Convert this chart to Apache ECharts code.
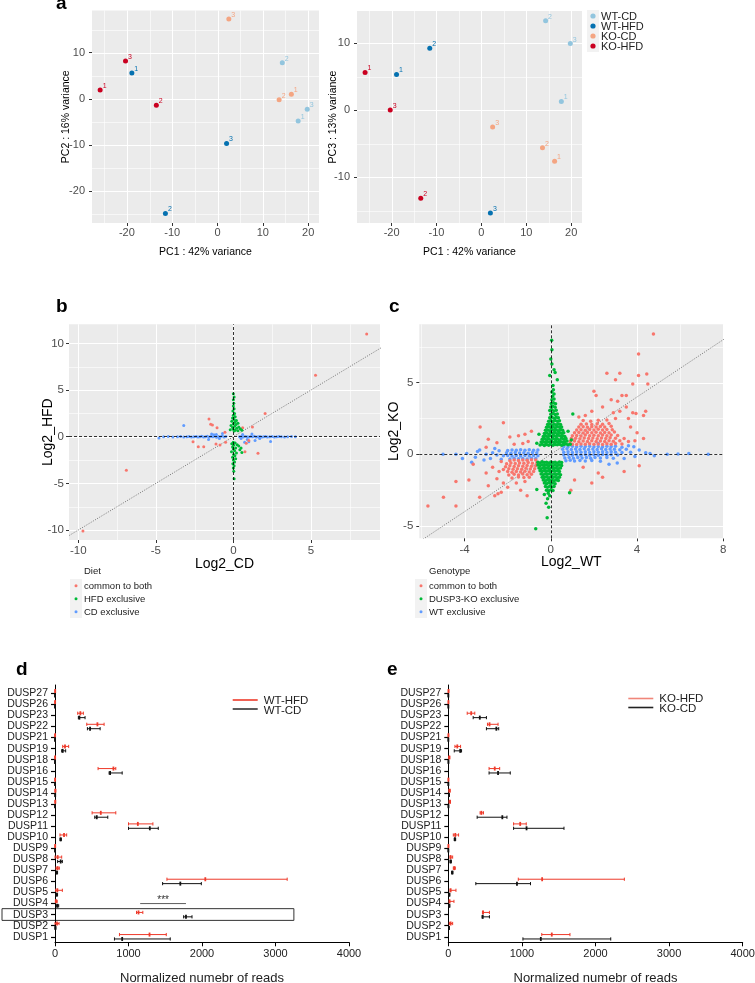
<!DOCTYPE html>
<html><head><meta charset="utf-8">
<script src="https://cdn.jsdelivr.net/npm/echarts@6/dist/echarts.min.js"></script>
<style>html,body{margin:0;padding:0;background:#fff}#c{width:755px;height:983px}</style>
</head><body><div id="c"></div>
<script>
// ---------------- DATA ----------------
// Panel a: PCA (rows = group, columns = replicate 1,2,3)
const pcaGroups = ['WT-CD', 'WT-HFD', 'KO-CD', 'KO-HFD'];
const replicates = [1, 2, 3];
const pc1Values = [[17.8, 14.3, 19.8], [-18.9, -11.5, 2.0], [16.3, 13.6, 2.5], [-25.9, -13.5, -20.3]];
const pc2Values = [[-4.8, 7.8, -2.3], [5.6, -24.9, -9.7], [1.0, -0.2, 17.3], [1.9, -1.4, 8.2]];
const pc3Values = [[1.3, 13.3, 9.9], [5.3, 9.2, -15.3], [-7.6, -5.6, -2.5], [5.6, -13.1, 0.0]];
const pcaXTicks = [-20, -10, 0, 10, 20];
const pc2Ticks = [-20, -10, 0, 10];
const pc3Ticks = [-10, 0, 10];

// Panel b: Log2_CD (x) vs Log2_HFD (y)
const dietClasses = ['common to both', 'HFD exclusive', 'CD exclusive'];
const bCommon = [[8.6,11.0],[5.3,6.6],[2.05,2.5],[-6.9,-3.6],[-9.7,-10.1],[-1.57,1.9],[-1.46,1.33],[-1.35,1.26],[-1.05,0.97],[-2.26,-1.07],[-1.91,-1.07],[-1.12,-0.79],[-0.86,-0.9],[1.23,1.04],[0.83,-0.71],[1.59,-1.78],[0.75,-1.6],[-0.54,0.47],[0.6,0.95],[1.0,-0.4],[-0.5,-0.6],[-2.6,-0.55]];
const bHfdOnly = [[0.0,4.6],[0.05,4.25],[0.0,3.95],[0.03,3.6],[0.0,3.3],[0.05,3.0],[-0.03,2.75],[0.08,2.5],[0.0,2.3],[0.12,2.15],[-0.05,2.0],[0.05,1.85],[0.2,1.75],[-0.1,1.65],[0.1,1.55],[0.3,1.45],[0.0,1.4],[0.18,1.3],[-0.15,1.2],[0.08,1.12],[0.35,1.05],[-0.05,0.98],[0.22,0.9],[0.45,0.85],[0.0,0.8],[-0.2,0.75],[0.12,0.7],[0.3,0.65],[0.55,0.7],[0.05,0.6],
 [0.0,-0.6],[0.12,-0.68],[-0.1,-0.75],[0.25,-0.85],[0.02,-0.92],[0.35,-1.0],[-0.05,-1.1],[0.15,-1.2],[0.0,-1.32],[0.42,-1.4],[0.08,-1.5],[-0.12,-1.62],[0.2,-1.75],[0.02,-1.9],[0.1,-2.05],[-0.05,-2.2],[0.15,-2.35],[0.0,-2.5],[0.08,-2.7],[-0.03,-2.9],[0.05,-3.1],[0.0,-3.35],[0.03,-3.7],[0.05,-4.5],[0.55,-1.7],[0.5,-1.2]];
const bCdOnly = [[-4.8,-0.15],[-4.5,0.0],[-4.2,0.02],[-3.9,-0.03],[-3.6,0.0],[-3.4,0.03],[-3.2,-0.02],[-3.0,0.0],[-2.85,0.03],[-2.7,-0.02],[-2.55,0.0],
 [-2.4,0.02],[-2.28,-0.03],[-2.16,0.0],[-2.04,0.04],[-1.92,-0.02],[-1.8,0.0],[-1.68,0.05],[-1.56,-0.04],[-1.44,0.02],[-1.32,0.0],[-1.2,0.06],[-1.08,-0.05],[-0.96,0.02],[-0.84,0.0],[-0.72,0.08],[-0.6,-0.03],[-0.48,0.02],[-1.4,0.3],[-1.25,0.2],[-1.1,0.25],[-0.9,-0.2],[-0.7,0.35],[-3.2,1.2],[-1.6,-0.3],
 [0.4,0.0],[0.52,0.03],[0.64,-0.02],[0.76,0.02],[0.88,0.0],[1.0,-0.03],[1.12,0.02],[1.24,0.0],[1.36,0.04],[1.48,-0.02],[1.6,0.0],[1.72,0.03],[1.84,-0.02],[1.96,0.0],[2.08,0.02],[2.2,-0.02],[2.35,0.0],[2.5,0.03],[2.65,-0.02],[2.8,0.0],[2.95,0.02],[3.1,0.0],[3.3,-0.02],[3.5,0.0],[3.75,0.02],[4.0,0.0],[0.73,-0.6],[1.0,-0.55],[0.9,-0.3],[1.4,-0.4],[1.2,0.3],[0.6,0.25],[1.7,-0.2],[2.4,-0.5],[0.5,-0.2]];
const bGeneLabels = [['Myo15b',0.75,5.47],['Gm3776',-1.03,4.82],['Cbr3',-0.65,3.79],['Lrtm2',0.63,4.0],['Serpina5',0.22,2.86],['Cgref1',-2.62,1.65],['Tnfaip8l3',1.08,1.43],['Sult2a7',1.9,0.5],['Slc13a4',3.48,0.64],['Lepr',-4.94,0.29],['Cntnap1',-3.59,0.43],['2310034O05Rik',-5.42,-0.75],['B930025P03Rik',-2.21,-0.54],['AC121973.1',4.95,-0.32],['Slc22a29',2.69,-0.75],['Gm45878',-0.1,-1.82],['Gm25360',-1.03,-2.79],['Snord13',0.82,-2.79],['Fam184a',-0.41,-3.75],['Pcdh11x',0.37,-5.07]];
const bXTicks = [-10, -5, 0, 5];
const bYTicks = [-10, -5, 0, 5, 10];

// Panel c: Log2_WT (x) vs Log2_KO (y)
const genotypeClasses = ['common to both', 'DUSP3-KO exclusive', 'WT exclusive'];
const cKoOnly = [[-0.5,0.65],[-0.4,0.7],[-0.3,0.62],[-0.2,0.68],[-0.1,0.64],[0,0.7],[0.1,0.63],[0.2,0.69],[0.3,0.66],[0.4,0.7],[0.5,0.64],[0.6,0.68],[0.7,0.72],[0.8,0.66],[0.9,0.7],
 [-0.45,0.85],[-0.35,0.9],[-0.25,0.82],[-0.15,0.88],[-0.05,0.84],[0.05,0.9],[0.15,0.83],[0.25,0.89],[0.35,0.85],[0.45,0.9],[0.55,0.84],[0.65,0.88],[0.75,0.92],
 [-0.4,1.05],[-0.3,1.1],[-0.2,1.02],[-0.1,1.08],[0,1.0],[0.1,1.1],[0.2,1.04],[0.3,1.08],[0.4,1.0],[0.5,1.12],[0.6,1.05],[0.7,1.1],
 [-0.35,1.25],[-0.25,1.3],[-0.15,1.22],[-0.05,1.32],[0.05,1.26],[0.15,1.3],[0.25,1.24],[0.35,1.33],[0.45,1.27],[0.55,1.3],[0.65,1.25],
 [-0.3,1.45],[-0.2,1.5],[-0.1,1.42],[0,1.52],[0.1,1.46],[0.2,1.5],[0.3,1.44],[0.4,1.53],[0.5,1.47],[0.6,1.5],
 [-0.25,1.68],[-0.15,1.7],[-0.05,1.65],[0.05,1.72],[0.15,1.66],[0.25,1.7],[0.35,1.64],[0.45,1.73],[0.55,1.68],
 [-0.2,1.88],[-0.1,1.92],[0,1.85],[0.1,1.9],[0.2,1.86],[0.3,1.93],[0.4,1.88],[0.5,1.9],
 [-0.15,2.08],[-0.05,2.12],[0.05,2.05],[0.15,2.1],[0.25,2.06],[0.35,2.12],[0.45,2.08],
 [-0.1,2.3],[0,2.35],[0.1,2.28],[0.2,2.36],[0.3,2.3],[0.4,2.34],
 [-0.05,2.55],[0.05,2.6],[0.15,2.52],[0.25,2.58],[0.35,2.55],
 [0,2.8],[0.1,2.85],[0.2,2.78],[0.3,2.82],[-0.05,3.05],[0.05,3.1],[0.15,3.02],[0.25,3.08],
 [0,3.3],[0.1,3.35],[0.2,3.28],[0.02,3.55],[0.12,3.6],[0.22,3.52],[0.05,3.8],[0.15,3.85],
 [0.08,4.05],[0.15,4.2],[0.05,4.35],[0.12,4.5],[0.1,4.8],[0.2,5.7],[0.15,5.9],[0.05,6.3],[0.0,6.65],[0.05,7.3],[0.04,7.95],[-0.05,5.5],[0.3,5.2],[-0.65,0.78],[1.02,2.81],[-0.55,1.4],[0.8,1.6],[0.95,1.0],
 [-0.6,-0.55],[-0.5,-0.6],[-0.4,-0.52],[-0.3,-0.58],[-0.2,-0.55],[-0.1,-0.6],[0,-0.53],[0.1,-0.58],[0.2,-0.55],[0.3,-0.6],[0.4,-0.54],[0.5,-0.58],
 [-0.6,-0.75],[-0.5,-0.8],[-0.4,-0.72],[-0.3,-0.78],[-0.2,-0.74],[-0.1,-0.8],[0,-0.73],[0.1,-0.79],[0.2,-0.75],[0.3,-0.8],[0.4,-0.74],[0.5,-0.78],
 [-0.55,-0.95],[-0.45,-1.0],[-0.35,-0.93],[-0.25,-0.98],[-0.15,-0.95],[-0.05,-1.0],[0.05,-0.94],[0.15,-0.99],[0.25,-0.95],[0.35,-1.0],[0.45,-0.96],
 [-0.5,-1.15],[-0.4,-1.2],[-0.3,-1.13],[-0.2,-1.18],[-0.1,-1.15],[0,-1.2],[0.1,-1.14],[0.2,-1.19],[0.3,-1.15],[0.4,-1.2],
 [-0.45,-1.38],[-0.35,-1.42],[-0.25,-1.35],[-0.15,-1.4],[-0.05,-1.36],[0.05,-1.42],[0.15,-1.37],[0.25,-1.41],[0.35,-1.38],[0.45,-1.42],
 [-0.4,-1.6],[-0.3,-1.62],[-0.2,-1.57],[-0.1,-1.63],[0,-1.58],[0.1,-1.62],[0.2,-1.59],[0.3,-1.63],[0.4,-1.6],
 [-0.35,-1.8],[-0.25,-1.84],[-0.15,-1.78],[-0.05,-1.83],[0.05,-1.8],[0.15,-1.85],[0.25,-1.79],[0.35,-1.82],
 [-0.3,-2.0],[-0.2,-2.05],[-0.1,-1.98],[0,-2.04],[0.1,-2.0],[0.2,-2.05],
 [-0.25,-2.25],[-0.15,-2.3],[-0.05,-2.22],[0.05,-2.28],[0.15,-2.24],
 [-0.2,-2.5],[-0.1,-2.55],[0,-2.48],[0.1,-2.53],[-0.65,-2.45],
 [-0.12,-2.72],[-0.05,-2.9],[-0.15,-3.1],[-0.22,-3.42],[-0.1,-3.7],[-0.17,-4.42],[-0.7,-5.2],[0.87,-2.68],[-0.3,-2.8]];
const cCommon = [[1.0,0.7],[1.2,0.68],[1.4,0.72],[1.6,0.7],[1.8,0.74],[2.0,0.7],[2.2,0.72],[2.4,0.69],[2.6,0.73],[2.8,0.7],[3.0,0.75],[3.3,0.72],
 [0.9,0.9],[1.1,0.92],[1.3,0.88],[1.5,0.93],[1.7,0.9],[1.9,0.94],[2.1,0.89],[2.3,0.93],[2.5,0.9],[2.7,0.95],[2.9,0.91],[3.2,0.95],[3.6,0.9],
 [0.95,1.1],[1.15,1.12],[1.35,1.08],[1.55,1.13],[1.75,1.1],[1.95,1.14],[2.15,1.09],[2.35,1.13],[2.55,1.1],[2.75,1.15],[3.0,1.12],[3.4,1.1],
 [1.0,1.3],[1.2,1.32],[1.4,1.28],[1.6,1.34],[1.8,1.3],[2.0,1.33],[2.2,1.29],[2.4,1.34],[2.6,1.3],[2.8,1.35],[3.1,1.32],
 [1.1,1.5],[1.3,1.52],[1.5,1.48],[1.7,1.53],[1.9,1.5],[2.1,1.54],[2.3,1.49],[2.5,1.53],[2.7,1.5],[2.95,1.55],
 [1.2,1.7],[1.4,1.72],[1.6,1.68],[1.8,1.73],[2.0,1.7],[2.2,1.74],[2.4,1.69],[2.6,1.73],[2.85,1.72],
 [1.3,1.9],[1.5,1.92],[1.7,1.88],[1.9,1.93],[2.1,1.9],[2.3,1.94],[2.5,1.9],[2.8,1.95],
 [1.4,2.1],[1.65,2.12],[1.9,2.08],[2.15,2.13],[2.4,2.1],[2.7,2.15],[1.5,2.35],[1.85,2.3],[2.2,2.38],[2.6,2.4],[3.0,2.5],
 [2.0,4.4],[2.6,5.65],[3.2,5.65],[3.0,5.2],[4.07,7.0],[4.76,8.4],[4.07,5.5],[4.45,5.6],[4.5,4.9],[3.8,4.9],[3.5,4.1],[3.3,4.1],[2.1,4.1],[2.8,3.8],[3.1,3.7],[3.8,2.9],[3.95,2.85],[3.6,2.5],[4.0,1.5],[3.5,3.3],[2.4,3.3],[1.9,3.0],[1.6,2.7],[3.2,3.0],[4.3,2.7],[4.4,3.0],[1.3,2.6],[2.9,2.9],[3.7,1.9],[4.3,1.1],[3.9,0.95],
 [1.9,-2.0],[0.93,-2.5],[2.4,-1.6],[3.4,-1.2],[1.5,-0.9],[2.2,-1.3],[4.1,-0.8],[1.1,-1.8],
 [-0.7,-0.4],[-0.9,-0.38],[-1.1,-0.42],[-1.3,-0.4],[-1.5,-0.43],[-1.7,-0.4],[-1.9,-0.45],
 [-0.65,-0.6],[-0.85,-0.62],[-1.05,-0.58],[-1.25,-0.63],[-1.45,-0.6],[-1.65,-0.64],[-1.85,-0.6],[-2.05,-0.66],
 [-0.7,-0.8],[-0.9,-0.83],[-1.1,-0.78],[-1.3,-0.84],[-1.5,-0.8],[-1.7,-0.85],[-1.9,-0.8],[-2.1,-0.86],
 [-0.75,-1.0],[-0.95,-1.03],[-1.15,-0.98],[-1.35,-1.04],[-1.55,-1.0],[-1.75,-1.05],[-1.95,-1.0],[-2.2,-1.06],
 [-0.8,-1.2],[-1.0,-1.23],[-1.2,-1.18],[-1.4,-1.24],[-1.6,-1.2],[-1.8,-1.25],[-2.0,-1.2],
 [-0.9,-1.4],[-1.1,-1.43],[-1.3,-1.38],[-1.5,-1.44],[-1.7,-1.4],[-1.95,-1.45],[-1.0,-1.6],[-1.25,-1.62],[-1.5,-1.58],[-1.8,-1.65],
 [-5.7,-3.6],[-4.98,-3.0],[-4.4,-3.6],[-4.4,-1.9],[-3.8,-1.8],[-2.9,-2.2],[-3.3,-3.0],[-2.6,-2.9],[-2.45,-2.75],[-2.3,-2.65],[-2.2,-2.0],[-2.5,-1.7],[-2.0,-2.3],[-1.6,-2.0],[-1.4,-2.5],[-1.2,-1.9],[-3.0,-1.3],[-2.7,-0.9],[-2.4,-1.2],[-3.6,-0.7],[-2.3,-0.5],[-1.1,-2.9],
 [-3.28,1.9],[-2.2,2.2],[-1.9,1.2],[-1.5,1.3],[-1.2,1.4],[-1.05,0.9],[-2.5,0.8],[-1.7,0.7],[-0.9,1.6],[-1.3,0.75],[-2.9,1.05],[-3.0,0.5]];
const cWtOnly = [[0.6,0.55],[0.8,0.52],[1.0,0.56],[1.2,0.53],[1.4,0.57],[1.6,0.54],[1.8,0.56],[2.0,0.52],[2.2,0.55],[2.4,0.53],[2.6,0.57],[2.8,0.54],[3.0,0.56],[3.3,0.5],
 [0.55,0.35],[0.75,0.38],[0.95,0.33],[1.15,0.37],[1.35,0.34],[1.55,0.38],[1.75,0.33],[1.95,0.37],[2.15,0.34],[2.35,0.38],[2.55,0.33],[2.75,0.37],[2.95,0.35],[3.2,0.32],[3.5,0.36],
 [0.6,0.15],[0.8,0.18],[1.0,0.13],[1.2,0.17],[1.4,0.14],[1.6,0.18],[1.8,0.13],[2.0,0.17],[2.2,0.14],[2.4,0.18],[2.6,0.13],[2.8,0.17],[3.0,0.15],[3.3,0.12],[3.7,0.15],
 [0.6,-0.05],[0.8,-0.02],[1.0,-0.07],[1.2,-0.03],[1.4,-0.06],[1.6,-0.02],[1.8,-0.07],[2.0,-0.03],[2.2,-0.06],[2.4,-0.02],[2.6,-0.07],[2.8,-0.03],[3.1,-0.05],
 [0.65,-0.25],[0.85,-0.22],[1.05,-0.27],[1.25,-0.23],[1.45,-0.26],[1.65,-0.22],[1.85,-0.27],[2.05,-0.23],[2.3,-0.26],[2.6,-0.22],[2.9,-0.27],
 [0.7,-0.45],[0.9,-0.42],[1.1,-0.47],[1.35,-0.43],[1.6,-0.46],[1.9,-0.44],[2.3,-0.48],
 [3.85,0.52],[3.08,-0.6],[4.4,0.1],[5.4,0.0],[7.3,0.0],[4.6,0.05],[5.9,0.02],[6.4,0.05],[3.4,-0.3],[3.6,0.6],[4.1,0.3],[3.9,-0.15],[2.7,-0.7],[4.8,-0.1],[2.2,0.75],
 [-0.6,0.3],[-0.8,0.28],[-1.0,0.32],[-1.2,0.29],[-1.4,0.31],[-1.6,0.28],[-1.8,0.3],[-2.0,0.27],
 [-0.65,0.1],[-0.85,0.12],[-1.05,0.08],[-1.25,0.11],[-1.45,0.09],[-1.65,0.12],[-1.85,0.08],[-2.05,0.11],
 [-0.6,-0.1],[-0.8,-0.08],[-1.0,-0.12],[-1.2,-0.09],[-1.4,-0.11],[-1.6,-0.08],[-1.8,-0.12],[-2.0,-0.09],[-2.2,-0.1],
 [-0.7,-0.3],[-0.9,-0.28],[-1.1,-0.32],[-1.3,-0.29],[-1.5,-0.31],[-1.7,-0.28],[-1.9,-0.32],
 [-4.4,0.0],[-3.67,-0.55],[-3.4,0.2],[-3.1,-0.4],[-3.3,0.3],[-2.7,0.1],[-2.5,-0.05],[-2.8,-0.3],[-3.9,0.05],[-3.5,-0.2],[-2.4,0.25],[-2.3,-0.35],[-5.0,0.0],[-3.0,0.0],[-2.6,0.4],[-4.1,-0.3]];
const cGeneLabels = [['Sprr1a',-0.25,7.56],['Arhgap27os2',0.66,6.95],['Cdh16',-0.88,6.74],['Gm3776',-0.34,6.11],['Mir6921',0.58,5.23],['Gm39929',-3.37,0.65],['Cand1',-4.75,0.25],['Asns',-4.26,-0.44],['Gm45044',-2.9,-0.44],['9430037G07Rik',-3.54,-1.05],['Nfib',-0.76,-2.49],['Pcdh11x',0.58,-3.24],['CT010467.1',-0.5,-3.89],['Obp2a',0.01,-4.77],['AC121973.1',-0.99,-5.51],['Cacna1e',4.69,0.58],['Fgf21',3.8,-0.12],['Tnni2',6.0,0.11],['Gm45865',5.12,-0.58],['Actn3',7.31,-0.4]];
const cXTicks = [-4, 0, 4, 8];
const cYTicks = [-5, 0, 5];
const identityRange = [-15, 15];

// Panels d, e: DUSP normalized reads (index 0 = DUSP1, bottom)
const duspNames = ['DUSP1','DUSP2','DUSP3','DUSP4','DUSP5','DUSP6','DUSP7','DUSP8','DUSP9','DUSP10','DUSP11','DUSP12','DUSP13','DUSP14','DUSP15','DUSP16','DUSP18','DUSP19','DUSP21','DUSP22','DUSP23','DUSP26','DUSP27'];
const wtHfdMean = [1286,27,1136,14,32,2045,36,36,3,123,1127,623,4,5,2,795,2,136,2,577,345,2,3];
const wtHfdLo   = [877,0,1109,5,9,1523,14,0,0,68,1000,505,0,0,0,586,0,105,0,432,309,0,0];
const wtHfdHi   = [1514,55,1195,30,100,3159,59,91,6,159,1332,827,8,10,4,827,4,186,4,668,386,4,6];
const wtCdMean  = [914,5,1782,32,23,1705,23,77,1,77,1290,568,1,3,1,750,1,105,1,477,332,1,1];
const wtCdLo    = [809,0,1750,18,10,1464,12,36,0,68,1000,541,0,0,0,736,0,91,0,441,318,0,0];
const wtCdHi    = [1568,12,1864,50,35,1991,35,100,2,86,1405,718,2,6,2,914,2,145,2,614,409,2,2];
const koHfdMean = [1406,32,473,18,32,1275,81,32,2,95,977,450,23,18,2,631,14,122,2,560,311,2,3];
const koHfdLo   = [1270,14,464,14,23,951,68,23,0,68,887,432,10,8,0,554,5,90,0,532,257,0,0];
const koHfdHi   = [1653,59,559,77,104,2392,95,59,4,140,1059,478,30,25,4,698,20,167,4,676,360,4,6];
const koCdMean  = [1257,9,468,14,14,933,54,32,1,90,1063,734,2,9,1,676,2,162,1,653,428,1,1];
const koCdLo    = [1014,4,459,8,8,374,45,23,0,80,887,392,0,4,0,554,0,81,0,518,338,0,0];
const koCdHi    = [2207,14,559,20,20,1117,63,41,2,100,1572,797,4,14,2,842,4,180,2,685,518,2,2];
const readTicks = [0, 1000, 2000, 3000, 4000];
const sigGene = 'DUSP3';
const sigSpan = [1159, 1782];
const sigText = '***';
const boxMaxValue = 3250;

// ---------------- STYLE ----------------
const FONT = '"Liberation Sans", Arial, Helvetica, sans-serif';
const pcaColors = ['#92C5DE', '#0571B0', '#F4A582', '#CA0020'];
const ggColors = ['#F8766D', '#00BA38', '#619CFF'];
const red = '#EE3A2A', black = '#111';

const chart = echarts.init(document.getElementById('c'), null, {renderer: 'canvas'});

function ggAxis(dim, gi, min, max, ticks, name, nameGap, fs, margin, nameFs) {
  const step = ticks[1] - ticks[0];
  return {
    type: 'value', gridIndex: gi, min, max, minInterval: step, maxInterval: step, splitNumber: 5,
    axisLine: {show: false, onZero: false},
    axisTick: {show: true, length: 3, customValues: ticks, lineStyle: {color: '#333', width: 1}},
    axisLabel: {customValues: ticks, color: '#4D4D4D', fontSize: fs, fontFamily: FONT, margin, hideOverlap: false},
    splitLine: {show: false},
    name, nameLocation: 'middle', nameGap, nameRotate: dim === 'y' ? 90 : 0, nameMoveOverlap: false,
    nameTextStyle: {color: '#000', fontSize: nameFs, fontFamily: FONT}
  };
}
// ggplot panel: grey background + white major (ticks) / minor (halfway) guide lines, one group, placed through the axes
function guideValues(r, t) {
  const step = t[1] - t[0], out = [];
  t.forEach(v => out.push([v, 1]));
  for (let v = t[0] - step / 2; v <= r[1]; v += step) if (v >= r[0]) out.push([v, 0.6]);
  return out;
}
function ggPanel(gi, xr, xt, yr, yt) {
  const gx = guideValues(xr, xt), gy = guideValues(yr, yt);
  return {type: 'custom', xAxisIndex: gi, yAxisIndex: gi, silent: true, z: 0, clip: false, data: [[xr[0], yr[0]]],
    renderItem: (params, api) => {
      const cs = params.coordSys;
      const children = [{type: 'rect', z2: 0, shape: {x: cs.x, y: cs.y, width: cs.width, height: cs.height}, style: {fill: '#EBEBEB'}}];
      gx.forEach(([v, o]) => {
        const px = Math.round(api.coord([v, yr[0]])[0]) + 0.5;
        children.push({type: 'line', z2: 5, shape: {x1: px, y1: cs.y, x2: px, y2: cs.y + cs.height}, style: {stroke: 'rgba(255,255,255,' + o + ')', lineWidth: 1}});
      });
      gy.forEach(([v, o]) => {
        const py = Math.round(api.coord([xr[0], v])[1]) + 0.5;
        children.push({type: 'line', z2: 5, shape: {x1: cs.x, y1: py, x2: cs.x + cs.width, y2: py}, style: {stroke: 'rgba(255,255,255,' + o + ')', lineWidth: 1}});
      });
      return {type: 'group', children};
    }};
}

const grids = [
  {left: 92, top: 10.5, width: 227, height: 212.5},
  {left: 357, top: 11, width: 225, height: 212},
  {left: 69, top: 324.3, width: 311, height: 215.7},
  {left: 419.3, top: 324.3, width: 304, height: 214},
  {left: 55, top: 685, width: 294, height: 257.3},
  {left: 448.3, top: 685, width: 294.4, height: 257.3}
].map(g => Object.assign({show: false, containLabel: false, outerBoundsMode: 'none'}, g));

const duspIdx = duspNames.map((_, i) => i);
function readsX(gi) {
  return {type: 'value', gridIndex: gi, min: 0, max: 4000, interval: 1000,
    axisLine: {show: true, onZero: false, lineStyle: {color: '#000', width: 1}},
    axisTick: {show: true, length: 4, customValues: readTicks, lineStyle: {color: '#000'}},
    axisLabel: {customValues: readTicks, formatter: v => String(v), color: '#222', fontSize: 11, fontFamily: FONT, margin: 6, hideOverlap: false},
    splitLine: {show: false},
    name: 'Normalized numebr of reads', nameLocation: 'middle', nameGap: 30, nameMoveOverlap: false,
    nameTextStyle: {color: '#222', fontSize: 13, fontFamily: FONT}};
}
function duspY(gi) {
  return {type: 'value', gridIndex: gi, min: -0.5, max: 22.75,
    axisLine: {show: true, onZero: false, lineStyle: {color: '#000', width: 1}},
    axisTick: {show: true, length: 4, customValues: duspIdx, lineStyle: {color: '#000', width: 1.2}},
    axisLabel: {customValues: duspIdx, formatter: v => duspNames[Math.round(v)], color: '#222', fontSize: 10.5, fontFamily: FONT, margin: 7, hideOverlap: false},
    splitLine: {show: false}};
}

const R = {
  ax: [-27.7, 22.4], ay0: [-26.95, 19.15], ay1: [-16.8, 14.75],
  bx: [-10.6, 9.46], by: [-11.07, 12.05], cx: [-6.1, 8.0], cy: [-5.86, 9.07]
};
const xAxes = [
  ggAxis('x', 0, R.ax[0], R.ax[1], pcaXTicks, 'PC1 : 42% variance', 24, 11, 4, 10.5),
  ggAxis('x', 1, R.ax[0], R.ax[1], pcaXTicks, 'PC1 : 42% variance', 24, 11, 4, 10.5),
  ggAxis('x', 2, R.bx[0], R.bx[1], bXTicks, 'Log2_CD', 17, 11.5, 5, 14),
  ggAxis('x', 3, R.cx[0], R.cx[1], cXTicks, 'Log2_WT', 17, 11.5, 6, 14),
  readsX(4), readsX(5)
];
const yAxes = [
  ggAxis('y', 0, R.ay0[0], R.ay0[1], pc2Ticks, 'PC2 : 16% variance', 20, 11, 7, 10.5),
  ggAxis('y', 1, R.ay1[0], R.ay1[1], pc3Ticks, 'PC3 : 13% variance', 18, 11, 7, 10.5),
  ggAxis('y', 2, R.by[0], R.by[1], bYTicks, 'Log2_HFD', 14, 11.5, 5, 14),
  ggAxis('y', 3, R.cy[0], R.cy[1], cYTicks, 'Log2_KO', 18, 11.5, 6, 14),
  duspY(4), duspY(5)
];

const series = [
  ggPanel(0, R.ax, pcaXTicks, R.ay0, pc2Ticks),
  ggPanel(1, R.ax, pcaXTicks, R.ay1, pc3Ticks),
  ggPanel(2, R.bx, bXTicks, R.by, bYTicks),
  ggPanel(3, R.cx, cXTicks, R.cy, cYTicks)
];
// Panel a
pcaGroups.forEach((g, gi) => {
  [[1, pc2Values], [2, pc3Values]].forEach(([ax, pcY], k) => {
    series.push({type: 'scatter', name: g, xAxisIndex: k, yAxisIndex: k, symbolSize: 5, silent: true, z: 3,
      itemStyle: {color: pcaColors[gi], opacity: 1},
      data: pc1Values[gi].map((x, i) => [x, pcY[gi][i], replicates[i]]),
      label: {show: true, formatter: p => String(p.value[2]), position: 'right', distance: 0, offset: [0, -4], fontSize: 7, color: pcaColors[gi], fontFamily: FONT}});
  });
});
// Panels b, c
function zeroLines() {
  return {silent: true, symbol: 'none', label: {show: false}, lineStyle: {color: '#000', type: [3, 2], width: 0.8},
    data: [{xAxis: 0}, {yAxis: 0}]};
}
function identity(gi) {
  return {type: 'line', xAxisIndex: gi, yAxisIndex: gi, silent: true, symbol: 'none', clip: true,
    data: identityRange.map(v => [v, v]), lineStyle: {color: '#555', type: [1, 1.5], width: 0.8}, z: 2};
}
function pts(gi, data, color, size, z) {
  return {type: 'scatter', xAxisIndex: gi, yAxisIndex: gi, data, symbolSize: size, silent: true,
    itemStyle: {color, opacity: 1}, z};
}
function geneText(gi, labels, fs) {
  return {type: 'scatter', xAxisIndex: gi, yAxisIndex: gi, silent: true, symbolSize: 0, z: 6,
    data: labels.map(l => ({name: l[0], value: [l[1], l[2]]})),
    itemStyle: {opacity: 0},
    label: {show: true, position: 'inside', formatter: p => p.name, fontSize: fs, color: '#111', fontFamily: FONT}};
}
series.push(identity(2));
series.push(Object.assign(pts(2, bCdOnly, ggColors[2], 3, 3), {markLine: zeroLines()}));
series.push(pts(2, bCommon, ggColors[0], 3, 4));
series.push(pts(2, bHfdOnly, ggColors[1], 3, 4));
series.push(geneText(2, bGeneLabels, 6));
series.push(identity(3));
series.push(Object.assign(pts(3, cWtOnly, ggColors[2], 3.5, 3), {markLine: zeroLines()}));
series.push(pts(3, cCommon, ggColors[0], 3.5, 4));
series.push(pts(3, cKoOnly, ggColors[1], 3.5, 4));
series.push(geneText(3, cGeneLabels, 6));

// Panels d, e: error bars
function errSeries(gi, lo, mean, hi, color, off) {
  return {type: 'custom', xAxisIndex: gi, yAxisIndex: gi, clip: false, silent: true,
    data: duspNames.map((n, i) => [i, lo[i], mean[i], hi[i]]),
    encode: {x: [1, 2, 3], y: 0},
    renderItem: (params, api) => {
      const i = api.value(0);
      const a = api.coord([api.value(1), i]), m = api.coord([api.value(2), i]), b = api.coord([api.value(3), i]);
      const y = a[1] + off;
      const st = {stroke: color, lineWidth: 1};
      return {type: 'group', children: [
        {type: 'line', shape: {x1: a[0], y1: y, x2: b[0], y2: y}, style: st},
        {type: 'line', shape: {x1: a[0], y1: y - 1.6, x2: a[0], y2: y + 1.6}, style: st},
        {type: 'line', shape: {x1: b[0], y1: y - 1.6, x2: b[0], y2: y + 1.6}, style: st},
        {type: 'line', shape: {x1: m[0], y1: y - 2, x2: m[0], y2: y + 2}, style: {stroke: color, lineWidth: 1.8}}
      ]};
    }};
}
series.push(errSeries(4, wtHfdLo, wtHfdMean, wtHfdHi, red, -2.2));
series.push(errSeries(4, wtCdLo, wtCdMean, wtCdHi, black, 2.2));
series.push(errSeries(5, koHfdLo, koHfdMean, koHfdHi, red, -2.2));
series.push(errSeries(5, koCdLo, koCdMean, koCdHi, black, 2.2));

// ---------------- GRAPHIC (legends, panel letters) ----------------
const txt = (x, y, s, fs, extra) => ({type: 'text', x, y, silent: true,
  style: Object.assign({text: s, fontSize: fs, fontFamily: FONT, fill: '#222', verticalAlign: 'middle', align: 'left'}, extra || {})});
const letter = (x, y, s) => txt(x, y, s, 19, {fontWeight: 'bold', fill: '#000', verticalAlign: 'bottom'});
const graphic = [
  letter(56, 13, 'a'), letter(56, 316, 'b'), letter(389, 316, 'c'), letter(16, 679, 'd'), letter(387, 679, 'e'),
  {type: 'rect', silent: true, shape: {x: 587, y: 10, width: 12, height: 42}, style: {fill: '#F2F2F2'}}
];
pcaGroups.forEach((g, i) => {
  graphic.push({type: 'circle', silent: true, shape: {cx: 593, cy: 16 + 10 * i, r: 2.6}, style: {fill: pcaColors[i]}});
  graphic.push(txt(601, 16.5 + 10 * i, g, 11));
});
function ggLegend(x, title, classes) {
  graphic.push(txt(x + 8, 571, title, 9.5));
  graphic.push({type: 'rect', silent: true, shape: {x: x - 6, y: 579, width: 12, height: 39}, style: {fill: '#F2F2F2'}});
  classes.forEach((c, i) => {
    graphic.push({type: 'circle', silent: true, shape: {cx: x, cy: 585.7 + 13 * i, r: 1.5}, style: {fill: ggColors[i]}});
    graphic.push(txt(x + 8, 586 + 13 * i, c, 9.5));
  });
}
ggLegend(76, 'Diet', dietClasses);
ggLegend(421, 'Genotype', genotypeClasses);
function lineLegend(x, y, names, colors) {
  names.forEach((n, i) => {
    const yy = y + 9 * i;
    graphic.push({type: 'line', silent: true, shape: {x1: x, y1: yy, x2: x + 25, y2: yy}, style: {stroke: colors[i], lineWidth: 1.6}});
    graphic.push(txt(x + 31, yy + 0.5 + i, n, 11.5));
  });
}
lineLegend(232.7, 700, ['WT-HFD', 'WT-CD'], [red, '#333']);
lineLegend(628.3, 698.5, ['KO-HFD', 'KO-CD'], ['#F0867A', '#222']);

const option = {animation: false, backgroundColor: '#fff', textStyle: {fontFamily: FONT},
  grid: grids, xAxis: xAxes, yAxis: yAxes, series, graphic};
chart.setOption(option);

// annotations in panel d, placed through the panel's axes
const si = duspNames.indexOf(sigGene);
const boxTop = chart.convertToPixel({gridIndex: 4}, [boxMaxValue, si + 0.54]);
const boxBot = chart.convertToPixel({gridIndex: 4}, [boxMaxValue, si - 0.52]);
const s0 = chart.convertToPixel({gridIndex: 4}, [sigSpan[0], si + 1]);
const s1 = chart.convertToPixel({gridIndex: 4}, [sigSpan[1], si + 1]);
const extra = [
  {type: 'rect', silent: true, shape: {x: 2, y: boxTop[1], width: boxTop[0] - 2, height: boxBot[1] - boxTop[1]}, style: {fill: 'none', stroke: '#333', lineWidth: 1}},
  {type: 'line', silent: true, shape: {x1: s0[0], y1: s0[1], x2: s1[0], y2: s1[1]}, style: {stroke: '#333', lineWidth: 0.8}},
  txt((s0[0] + s1[0]) / 2, s0[1] - 3, sigText, 10, {align: 'center', fill: '#333'})
];
chart.setOption({graphic: graphic.concat(extra)});
</script></body></html>
